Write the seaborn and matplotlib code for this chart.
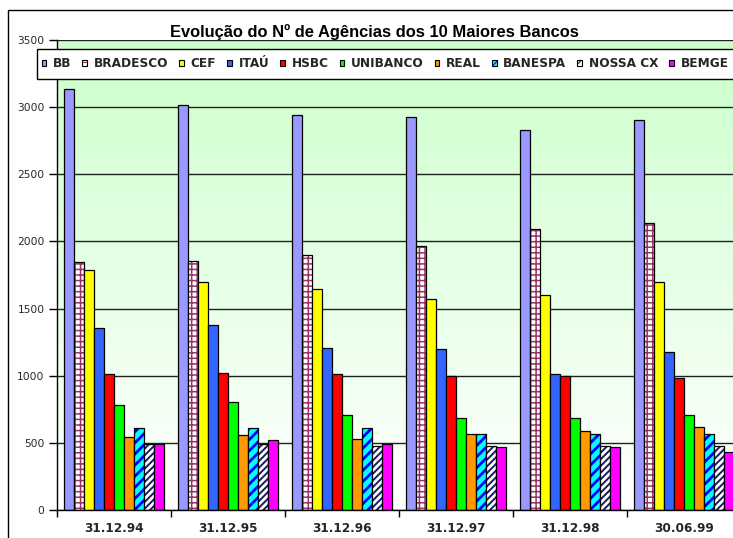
import numpy as np
import pandas as pd
import matplotlib
matplotlib.use("Agg")
import matplotlib.pyplot as plt
import matplotlib.colors as mcolors
from matplotlib.patches import Rectangle, Patch
from matplotlib.ticker import FixedLocator, NullFormatter
import seaborn as sns

datas = ['31.12.94', '31.12.95', '31.12.96', '31.12.97', '31.12.98', '30.06.99']
bancos = ['BB', 'BRADESCO', 'CEF', 'ITAÚ', 'HSBC', 'UNIBANCO', 'REAL', 'BANESPA', 'NOSSA CX', 'BEMGE']
bb = [3135, 3015, 2940, 2925, 2830, 2905]
bradesco = [1845, 1855, 1900, 1965, 2095, 2140]
cef = [1790, 1700, 1645, 1570, 1600, 1700]
itau = [1355, 1375, 1210, 1200, 1015, 1175]
hsbc = [1010, 1020, 1010, 995, 995, 980]
unibanco = [785, 805, 705, 685, 685, 705]
real = [545, 555, 530, 565, 590, 620]
banespa = [610, 610, 610, 565, 565, 565]
nossa_cx = [490, 495, 480, 480, 480, 475]
bemge = [490, 520, 495, 470, 470, 435]
series = [bb, bradesco, cef, itau, hsbc, unibanco, real, banespa, nossa_cx, bemge]
yticks = [0, 500, 1000, 1500, 2000, 2500, 3000, 3500]
titulo = 'Evolução do Nº de Agências dos 10 Maiores Bancos'

face = ['#9999ff', '#ffffff', '#ffff00', '#3366ff', '#ff0000', '#00ff00',
        '#ff9900', '#00ffff', '#ffffff', '#ff00ff']
hatches = [None, '+++', None, None, None, None, None, '///', '/////', None]
hatch_cols = [None, '#993366', None, None, None, None, None, '#0000ff', '#1a1a66', None]
hatch_lws = [None, 1.1, None, None, None, None, None, 2.0, 1.4, None]

rows = []
for b, vals in zip(bancos, series):
    for d, v in zip(datas, vals):
        rows.append({'data': d, 'banco': b, 'agencias': v})
df = pd.DataFrame(rows)

sns.set_style('white')
plt.rcParams['font.family'] = ['DejaVu Sans']
plt.rcParams['hatch.linewidth'] = 1.4


def style_hatch(p, h, hc, hlw):
    p.set_hatch(h)
    p._hatch_color = mcolors.to_rgba(hc)
    if hasattr(p, 'set_hatch_linewidth'):
        p.set_hatch_linewidth(hlw)


W, H = 733, 538
fig = plt.figure(figsize=(W / 100, H / 100), dpi=100)
fig.patch.set_facecolor('white')
ax = fig.add_axes([57 / W, 1 - 510 / H, (741 - 57) / W, (510 - 40) / H])

# gradient background
grad = np.linspace(0, 1, 256).reshape(-1, 1)
cmap = mcolors.LinearSegmentedColormap.from_list('g', ['#ccffcc', '#ffffff'])
ax.imshow(grad, cmap=cmap, aspect='auto', extent=[0, 1, 0, 1],
          transform=ax.transAxes, zorder=0)

sns.barplot(data=df, x='data', y='agencias', hue='banco', order=datas,
            hue_order=bancos, palette=dict(zip(bancos, face)), saturation=1,
            width=0.872, edgecolor='black', linewidth=0.9, errorbar=None,
            legend=False, ax=ax)

for cont, h, hc, hlw in zip(ax.containers, hatches, hatch_cols, hatch_lws):
    if h:
        for p in cont.patches:
            style_hatch(p, h, hc, hlw)

ax.set_xlim(-0.5, 5.5)
ax.set_ylim(0, 3500)
ax.set_yticks(yticks)
ax.set_yticklabels([str(v) for v in yticks], fontsize=7.7, family=['DejaVu Sans'])
ax.set_axisbelow(True)
ax.yaxis.grid(True, color='#202020', linewidth=1)
ax.xaxis.grid(False)

ax.xaxis.set_major_locator(FixedLocator([i - 0.5 for i in range(len(datas) + 1)]))
ax.xaxis.set_major_formatter(NullFormatter())
ax.xaxis.set_minor_locator(FixedLocator(list(range(len(datas)))))
ax.set_xticklabels(datas, minor=True, fontsize=8.7, fontweight='bold', family=['DejaVu Sans'])
ax.tick_params(axis='x', which='major', direction='out', length=5, width=1, color='black', bottom=True)
ax.tick_params(axis='x', which='minor', length=0, pad=9)
ax.tick_params(axis='y', direction='out', length=6, width=1, color='black', left=True, pad=3)
ax.set_xlabel('')
ax.set_ylabel('')
for s in ['top', 'right']:
    ax.spines[s].set_visible(False)
for s in ['left', 'bottom']:
    ax.spines[s].set_color('black')
    ax.spines[s].set_linewidth(1)

# outer chart border
fig.add_artist(Rectangle((8 / W, -0.5), 2, 1 - 10 / H + 0.5, transform=fig.transFigure,
                         fill=False, edgecolor='black', linewidth=1, zorder=5))

# title
fig.text(374 / W, 1 - 37 / H, titulo, ha='center', va='baseline',
         fontsize=11.9, fontweight='bold', color='black', family=['Liberation Sans', 'DejaVu Sans'])

# legend box
fig.add_artist(Rectangle((36.5 / W, 1 - 79 / H), 2, 30 / H, transform=fig.transFigure,
                         facecolor='white', edgecolor='black', linewidth=1, zorder=6))
handles = []
for f in face:
    handles.append(Patch(facecolor=f, edgecolor='black', linewidth=0.8))
leg = fig.legend(handles, bancos, loc='center left', bbox_to_anchor=(41.5 / W, 1 - 64 / H),
                 ncol=len(bancos), frameon=False, borderpad=0, borderaxespad=0,
                 handlelength=0.4, handleheight=0.4, handletextpad=0.55,
                 columnspacing=0.9, prop={'weight': 'bold', 'size': 8.7, 'family': 'DejaVu Sans'})
leg.set_zorder(7)
for lp, h, hc in zip(leg.get_patches(), hatches, hatch_cols):
    if h:
        lp.set_hatch('////' if '/' in h else '++')
        lp._hatch_color = mcolors.to_rgba(hc)
        if hasattr(lp, 'set_hatch_linewidth'):
            lp.set_hatch_linewidth(0.8)

fig.savefig('out.png', dpi=100)
